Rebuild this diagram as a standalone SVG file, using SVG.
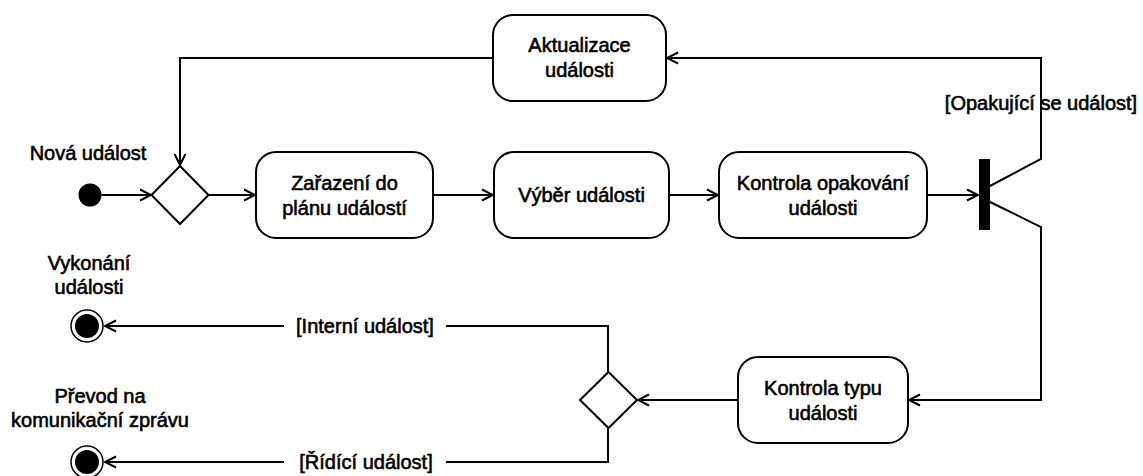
<svg xmlns="http://www.w3.org/2000/svg" width="1143" height="476" viewBox="0 0 1143 476">
<style>
text{font-family:"Liberation Sans",Arial,sans-serif;font-size:20px;fill:#000;stroke:#000;stroke-width:0.6;text-anchor:middle}
.box{fill:#fff;stroke:#000;stroke-width:2}
.dia{fill:#fff;stroke:#000;stroke-width:2}
.ln{fill:none;stroke:#000;stroke-width:2}
.lbg{fill:#fff}
</style>
<defs>
<marker id="arr" markerUnits="userSpaceOnUse" markerWidth="14" markerHeight="14" viewBox="0 0 14 14" refX="12" refY="7" orient="auto">
<path d="M1,1.5 L12,7 L1,12.5" fill="none" stroke="#000" stroke-width="2"/>
</marker>
</defs>
<rect width="1143" height="476" fill="#fff"/>
<g id="connectors">
<path class="ln" d="M101.5,195 L151,195" marker-end="url(#arr)"/>
<path class="ln" d="M493,58 L180,58 L180,165" marker-end="url(#arr)"/>
<path class="ln" d="M209,195 L255,195" marker-end="url(#arr)"/>
<path class="ln" d="M433,195 L493,195" marker-end="url(#arr)"/>
<path class="ln" d="M669,195 L718,195" marker-end="url(#arr)"/>
<path class="ln" d="M927,195 L978,195" marker-end="url(#arr)"/>
<path class="ln" d="M990,186 L1041,159 L1041,58 L667,58" marker-end="url(#arr)"/>
<path class="ln" d="M990,202 L1041,227 L1041,400 L909,400" marker-end="url(#arr)"/>
<path class="ln" d="M738,400 L638,400" marker-end="url(#arr)"/>
<path class="ln" d="M608,372 L608,326 L105,326" marker-end="url(#arr)"/>
<path class="ln" d="M608,428 L608,462 L105,462" marker-end="url(#arr)"/>
</g>
<g id="label-opakujici">
<text x="1041" y="110">[Opakující se událost]</text>
</g>
<g id="label-interni">
<rect class="lbg" x="284" y="312" width="162" height="28"/>
<text x="365" y="333">[Interní událost]</text>
</g>
<g id="label-ridici">
<rect class="lbg" x="284" y="448" width="162" height="28"/>
<text x="366" y="469">[Řídící událost]</text>
</g>
<g id="start">
<circle cx="90" cy="195" r="11.5" fill="#000"/>
<text x="88" y="160">Nová událost</text>
</g>
<g id="merge">
<polygon class="dia" points="180,166 208.5,195 180,224 151.5,195"/>
</g>
<g id="aktualizace">
<rect class="box" x="493" y="15" width="173" height="86" rx="20"/>
<text x="579.5" y="52">Aktualizace</text>
<text x="579.5" y="77">události</text>
</g>
<g id="zarazeni">
<rect class="box" x="256" y="152" width="177" height="86" rx="20"/>
<text x="344.5" y="189.5">Zařazení do</text>
<text x="344.5" y="214.5">plánu událostí</text>
</g>
<g id="vyber">
<rect class="box" x="494" y="152" width="175" height="86" rx="20"/>
<text x="581.5" y="202">Výběr události</text>
</g>
<g id="kontrola-opakovani">
<rect class="box" x="719" y="152" width="208" height="86" rx="20"/>
<text x="823" y="189.5">Kontrola opakování</text>
<text x="823" y="214.5">události</text>
</g>
<g id="fork">
<rect x="979" y="159" width="11" height="71" fill="#000"/>
</g>
<g id="kontrola-typu">
<rect class="box" x="738" y="357" width="170" height="86" rx="20"/>
<text x="823" y="394.5">Kontrola typu</text>
<text x="823" y="419.5">události</text>
</g>
<g id="decision">
<polygon class="dia" points="608.5,372 637,400 608.5,428 580,400"/>
</g>
<g id="end-vykonani">
<circle cx="87" cy="326" r="16" fill="#fff" stroke="#000" stroke-width="1.5"/>
<circle cx="87" cy="326" r="12" fill="#000"/>
<text x="89" y="270">Vykonání</text>
<text x="89" y="294">události</text>
</g>
<g id="end-prevod">
<circle cx="87" cy="462" r="16" fill="#fff" stroke="#000" stroke-width="1.5"/>
<circle cx="87" cy="462" r="12" fill="#000"/>
<text x="100" y="403">Převod na</text>
<text x="100" y="427">komunikační zprávu</text>
</g>
</svg>
